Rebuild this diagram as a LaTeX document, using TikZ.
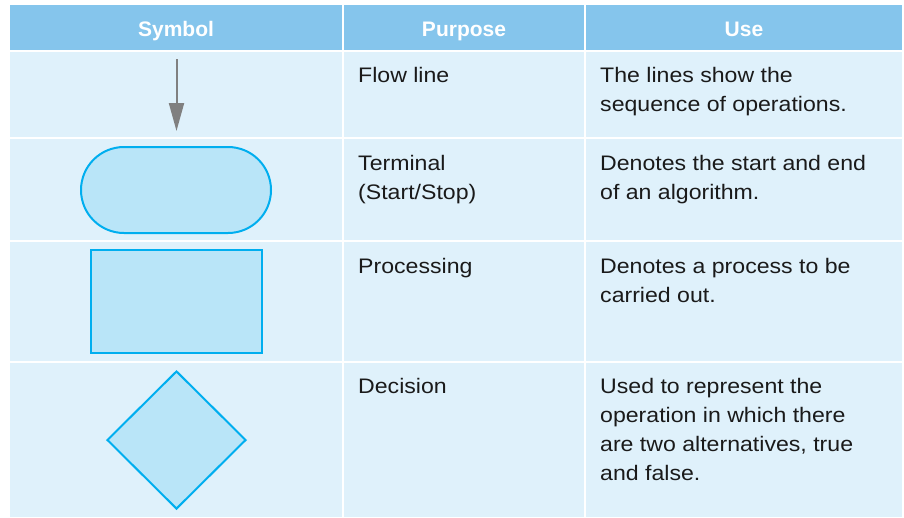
\documentclass[tikz,border=0pt]{standalone}
\usepackage{fontspec}
\setmainfont{Liberation Sans}
\newfontfamily\bodyfont[FakeStretch=1.1]{Liberation Sans}
\usetikzlibrary{shapes.geometric,arrows.meta}
\definecolor{hdr}{HTML}{85C5EC}
\definecolor{cellbg}{HTML}{DFF1FB}
\definecolor{shfill}{HTML}{B9E5F8}
\definecolor{shline}{HTML}{00AEEF}
\definecolor{txt}{HTML}{1A1A1A}
\definecolor{arr}{HTML}{808080}
\tikzset{
  cell/.style={fill=cellbg},
  hcell/.style={fill=hdr},
  htext/.style={text=white, font=\fontsize{21}{29}\selectfont\bfseries, anchor=base, inner sep=0},
  btext/.style={text=txt, font=\bodyfont\fontsize{21}{29}\selectfont, anchor=north west, inner sep=0, align=left},
  symb/.style={draw=shline, fill=shfill, line width=2pt, inner sep=0},
}
\newcommand{\ls}{\strut}
\begin{document}
\begin{tikzpicture}[x=1pt,y=-1pt]
\fill[white] (0,0) rectangle (904,517);
\useasboundingbox (0,0) rectangle (904,517);
% header
\fill[hcell] (10,5) rectangle (342,50);
\fill[hcell] (344,5) rectangle (584,50);
\fill[hcell] (586,5) rectangle (902,50);
% body cells
\foreach \ya/\yb in {52/137, 139/240, 242/361, 363/517}{
  \fill[cell] (10,\ya) rectangle (342,\yb);
  \fill[cell] (344,\ya) rectangle (584,\yb);
  \fill[cell] (586,\ya) rectangle (902,\yb);
}
\node[htext] (h1) at (176,36) {Symbol};
\node[htext] (h2) at (464,36) {Purpose};
\node[htext] (h3) at (744,36) {Use};
% row 1
\coordinate (a1) at (176.5,59);
\coordinate (a2) at (176.5,131);
\draw[arr, line width=2pt, -{Triangle[width=15pt,length=28pt]}] (a1) -- (a2);
\node[btext] (p1) at (358,62) {\ls Flow line};
\node[btext] (u1) at (600,62) {\ls The lines show the\\sequence of operations.};
% row 2
\node[symb, minimum width=190pt, minimum height=86pt, rounded corners=43pt] (term) at (176,190) {};
\node[btext] (p2) at (358,150) {\ls Terminal\\(Start/Stop)};
\node[btext] (u2) at (600,150) {\ls Denotes the start and end\\of an algorithm.};
% row 3
\node[symb, minimum width=171pt, minimum height=103pt] (proc) at (176.5,301.5) {};
\node[btext] (p3) at (358,253) {\ls Processing};
\node[btext] (u3) at (600,253) {\ls Denotes a process to be\\carried out.};
% row 4
\node[symb, diamond, minimum width=139pt, minimum height=138pt] (dec) at (176.5,440) {};
\node[btext] (p4) at (358,373) {\ls Decision};
\node[btext] (u4) at (600,373) {\ls Used to represent the\\operation in which there\\are two alternatives, true\\and false.};
\end{tikzpicture}
\end{document}
